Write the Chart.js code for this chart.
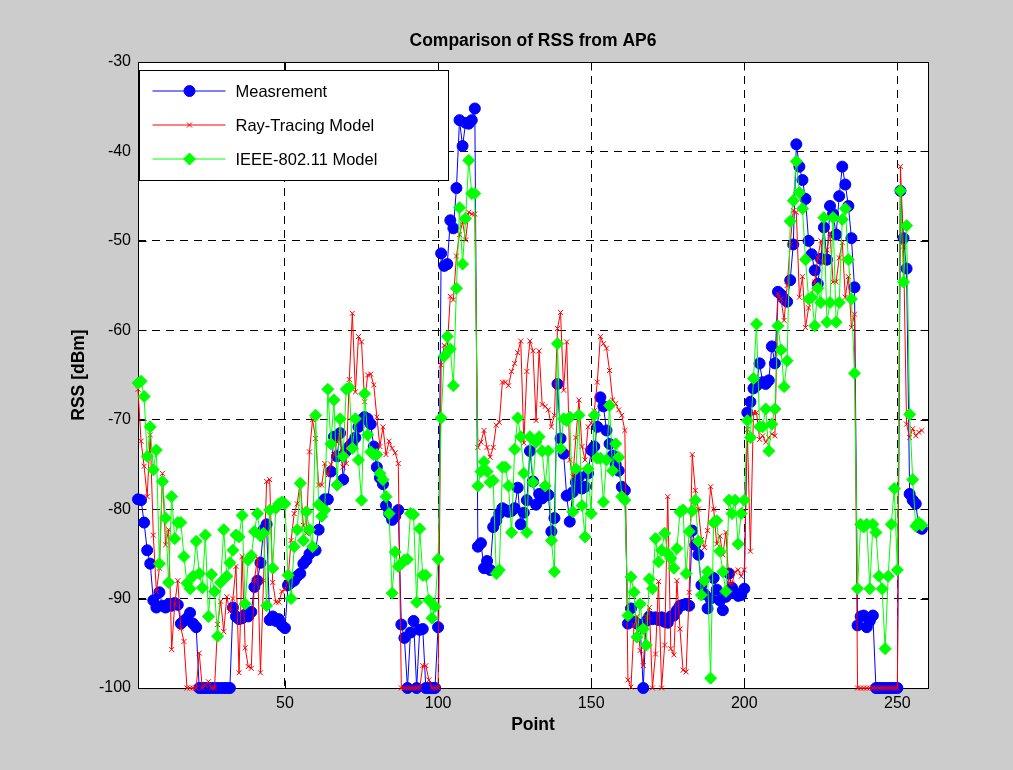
<!DOCTYPE html>
<html>
<head>
<meta charset="utf-8">
<script src="https://cdn.jsdelivr.net/npm/chart.js@4.4.1/dist/chart.umd.min.js"></script>
<style>
  html, body { margin: 0; padding: 0; background: #cccccc; }
  canvas { display: block; }
</style>
</head>
<body>
<canvas id="rss" width="1013" height="770" style="width:1013px;height:770px"></canvas>
<script>
// RSS per measurement point, AP6 (dBm), points 2..258
const firstPoint = 2

const measured = [
  -78.9, -79.0, -81.5, -84.6, -86.1, -90.2, -91.0, -89.3, -90.8, -91.0,
  -90.6, -90.8, -90.5, -90.7, -92.8, -92.5, -92.2, -91.6, -92.8, -93.2,
  -100, -100, -100, -100, -100, -100, -100, -100, -100, -100,
  -100, -91.0, -92.0, -92.3, -92.2, -91.8, -92.0, -91.5, -88.7, -88.0,
  -86.0, -82.3, -81.7, -92.4, -92.0, -92.5, -92.3, -93.0, -93.3, -88.5,
  -88.2, -88.0, -87.5, -87.2, -86.1, -85.7, -85.0, -84.6, -84.6, -82.3,
  -79.5, -78.9, -78.9, -75.8, -71.9, -74.1, -71.5, -76.7, -73.5, -73.0,
  -72.6, -72.0, -70.8, -70.0, -69.7, -69.9, -70.5, -73.0, -75.3, -76.5,
  -77.2, -79.6, -80.5, -81.2, -80.8, -80.1, -92.9, -94.4, -100, -93.8,
  -92.5, -100, -93.5, -93.4, -100, -100, -100, -100, -93.2, -51.4,
  -52.8, -52.6, -47.7, -48.6, -44.1, -36.5, -39.4, -36.8, -36.9, -36.5,
  -35.2, -84.2, -83.8, -86.6, -85.8, -86.8, -82.0, -81.3, -80.5, -79.9,
  -80.1, -80.3, -80.2, -79.9, -77.6, -81.7, -80.4, -79.0, -73.5, -76.9,
  -79.5, -78.3, -78.8, -78.5, -78.4, -82.5, -81.0, -66.0, -72.1, -73.8,
  -78.5, -81.4, -78.1, -77.0, -76.4, -77.7, -77.5, -76.0, -73.4, -73.0,
  -70.8, -67.5, -68.5, -71.2, -72.7, -74.0, -75.0, -75.7, -77.5, -77.9,
  -92.8, -91.1, -92.6, -92.8, -93.0, -100, -92.5, -92.0, -92.3, -92.1,
  -92.4, -92.1, -92.6, -92.7, -92.0, -91.9, -91.3, -90.8, -90.7, -90.6,
  -90.8, -82.4, -84.0, -85.1, -88.5, -89.5, -91.1, -90.0, -87.7, -89.0,
  -90.2, -91.3, -89.8, -87.2, -88.8, -89.4, -89.7, -89.6, -88.9, -69.2,
  -68.0, -66.5, -66.2, -63.7, -65.8, -66.0, -65.6, -61.8, -63.7, -55.7,
  -56.0, -56.5, -56.8, -54.4, -50.4, -39.2, -41.7, -43.2, -45.3, -50.0,
  -51.5, -53.3, -54.8, -52.0, -48.5, -52.1, -46.1, -47.0, -49.3, -45.0,
  -41.7, -43.7, -46.1, -49.7, -55.2, -93.0, -92.0, -91.9, -93.2, -92.5,
  -91.9, -100, -100, -100, -100, -100, -100, -100, -100, -44.4,
  -49.7, -53.1, -78.3, -79.0, -79.4, -82.0, -82.2
]

const rayTracing = [
  -66.6, -72.4, -75.2, -78.6, -71.7, -82.9, -89.2, -86.6, -76.0, -84.0,
  -82.3, -95.7, -90.6, -88.0, -93.3, -94.8, -100, -100, -100, -100,
  -96.1, -100, -99.7, -99.3, -100, -100, -92.9, -90.3, -93.7, -89.8,
  -91.4, -90.0, -86.4, -98.3, -85.3, -95.5, -97.6, -97.8, -88.0, -85.5,
  -98.3, -88.0, -76.9, -76.7, -88.2, -90.4, -90.4, -89.2, -89.0, -87.9,
  -83.5, -80.5, -79.4, -76.9, -81.8, -82.7, -73.6, -70.0, -72.1, -77.3,
  -77.3, -74.9, -76.2, -75.0, -73.9, -72.5, -71.4, -75.3, -74.9, -65.5,
  -58.1, -66.9, -60.7, -61.3, -68.0, -65.0, -64.9, -66.1, -69.7, -73.0,
  -70.8, -73.9, -72.4, -73.2, -73.7, -74.9, -100, -100, -100, -100,
  -100, -100, -100, -97.5, -97.5, -99.1, -100, -100, -100, -63.9,
  -61.7, -61.9, -56.2, -56.6, -51.7, -49.3, -47.9, -49.9, -46.8, -47.0,
  -47.0, -73.1, -72.5, -71.2, -73.1, -74.2, -73.1, -70.6, -70.3, -65.8,
  -65.8, -66.2, -64.6, -63.7, -62.5, -61.2, -72.6, -64.6, -61.2, -62.3,
  -70.1, -62.3, -68.3, -68.5, -68.9, -70.8, -69.5, -59.8, -58.0, -66.7,
  -61.3, -74.5, -76.4, -72.0, -67.8, -73.0, -74.5, -70.8, -70.4, -69.0,
  -65.8, -60.7, -61.5, -62.0, -64.5, -67.8, -68.2, -68.9, -69.5, -71.2,
  -99.1, -99.9, -93.0, -92.0, -95.8, -97.5, -92.0, -91.0, -100, -96.2,
  -88.1, -100, -95.2, -78.6, -95.6, -96.3, -88.0, -93.4, -98.0, -98.2,
  -89.3, -73.9, -77.9, -80.0, -83.4, -84.3, -82.4, -77.5, -80.0, -83.9,
  -83.0, -85.1, -82.6, -88.3, -88.3, -87.0, -86.8, -87.5, -86.8, -71.1,
  -84.7, -69.2, -69.2, -72.2, -71.8, -72.5, -72.0, -71.6, -71.8, -55.9,
  -56.5, -58.9, -55.0, -50.4, -46.6, -46.8, -56.3, -54.0, -59.7, -57.5,
  -56.3, -54.6, -51.9, -50.0, -52.5, -51.0, -49.1, -54.6, -54.6, -51.9,
  -50.2, -56.3, -54.0, -59.7, -58.2, -100, -100, -100, -100, -100,
  -100, -100, -100, -100, -100, -100, -100, -100, -100, -41.7,
  -50.6, -70.5, -72.0, -71.0, -71.8, -71.4, -71.2
]

const ieeeModel = [
  -65.9, -65.7, -67.4, -74.1, -70.8, -75.6, -73.4, -86.1, -76.9, -81.0,
  -88.2, -78.6, -83.3, -81.5, -81.5, -85.3, -88.3, -88.9, -87.5, -83.6,
  -87.2, -88.8, -82.9, -92.0, -87.3, -89.2, -94.2, -88.2, -82.3, -87.5,
  -86.0, -84.6, -82.9, -83.1, -80.7, -90.6, -85.7, -85.2, -82.5, -80.5,
  -83.0, -82.7, -90.8, -80.1, -86.6, -79.9, -79.4, -79.2, -79.4, -87.4,
  -90.0, -84.2, -82.3, -77.1, -83.5, -80.3, -82.3, -84.2, -69.5, -79.5,
  -80.8, -80.1, -66.6, -72.7, -67.8, -77.3, -69.9, -74.1, -66.6, -66.4,
  -73.2, -69.9, -74.5, -79.0, -67.1, -71.7, -73.6, -73.9, -73.9, -76.0,
  -76.7, -78.6, -80.5, -89.4, -84.8, -86.4, -86.1, -85.7, -85.6, -80.5,
  -80.6, -90.4, -82.2, -87.4, -87.4, -90.2, -92.2, -90.9, -85.6, -69.8,
  -62.9, -60.7, -62.1, -66.2, -55.3, -46.3, -52.6, -47.5, -41.0, -44.7,
  -44.7, -77.4, -75.8, -74.7, -75.8, -77.0, -76.8, -87.2, -86.8, -75.3,
  -75.3, -77.4, -82.6, -73.3, -69.8, -71.9, -76.0, -82.6, -71.9, -77.0,
  -72.5, -71.9, -73.5, -77.4, -73.5, -83.5, -87.0, -61.5, -73.2, -69.9,
  -70.1, -69.7, -80.3, -75.5, -69.5, -79.6, -83.1, -75.5, -80.5, -69.5,
  -74.3, -74.3, -79.2, -74.5, -68.4, -75.7, -72.7, -74.2, -78.6, -79.0,
  -91.9, -87.6, -89.3, -94.3, -90.6, -93.4, -95.2, -87.8, -88.9, -83.3,
  -85.9, -84.6, -82.7, -85.0, -85.5, -86.6, -84.4, -80.3, -80.1, -87.2,
  -82.5, -80.2, -79.0, -83.6, -89.6, -88.0, -87.0, -98.9, -81.5, -81.3,
  -84.7, -87.0, -89.2, -79.0, -80.5, -79.0, -83.9, -80.5, -79.0, -70.1,
  -72.0, -65.4, -59.3, -70.8, -70.8, -68.8, -73.5, -70.5, -68.8, -59.5,
  -62.2, -66.3, -63.4, -47.8, -45.5, -41.1, -44.6, -46.4, -52.1, -56.5,
  -56.3, -59.5, -55.3, -56.9, -47.4, -59.1, -56.9, -47.4, -59.1, -56.9,
  -47.6, -46.4, -52.1, -56.5, -64.8, -88.9, -81.7, -82.0, -81.7, -88.9,
  -81.7, -82.6, -87.5, -88.9, -95.6, -87.5, -81.7, -77.7, -86.8, -44.4,
  -54.6, -48.3, -69.4, -76.7, -81.9, -81.5, -81.8
]

const xTicks = [50, 100, 150, 200, 250]
const yTicks = [-100, -90, -80, -70, -60, -50, -40, -30]

const FONT = "'Liberation Sans', Arial, Helvetica, sans-serif"

const toPoints = values => values.map((v, k) => ({ x: firstPoint + k, y: v }))

// figure background, axes box with inward ticks, boxed legend
const figureFrame = {
    id: 'figureFrame',
    beforeDraw(chart) {
        const { ctx, chartArea: a } = chart
        ctx.save()
        ctx.fillStyle = '#cccccc'
        ctx.fillRect(0, 0, chart.width, chart.height)
        ctx.fillStyle = '#ffffff'
        ctx.fillRect(a.left, a.top, a.right - a.left, a.bottom - a.top)
        ctx.restore()
    },
    beforeDatasetsDraw(chart) {
        const { ctx, chartArea: a, scales } = chart
        const L = Math.round(a.left) + 0.5
        const R = Math.round(a.right) + 0.5
        const T = Math.round(a.top) + 0.5
        const B = Math.round(a.bottom) + 0.5
        const len = 8
        ctx.save()
        ctx.strokeStyle = '#000'
        ctx.lineWidth = 1
        ctx.setLineDash([])
        ctx.strokeRect(L, T, R - L, B - T)
        ctx.beginPath()
        for (const v of xTicks) {
            const px = Math.round(scales.x.getPixelForValue(v)) + 0.5
            ctx.moveTo(px, B); ctx.lineTo(px, B - len)
            ctx.moveTo(px, T); ctx.lineTo(px, T + len)
        }
        for (const v of yTicks) {
            const py = Math.round(scales.y.getPixelForValue(v)) + 0.5
            ctx.moveTo(L, py); ctx.lineTo(L + len, py)
            ctx.moveTo(R, py); ctx.lineTo(R - len, py)
        }
        ctx.stroke()
        ctx.restore()
    },
    afterDatasetsDraw(chart) {
        const { ctx, chartArea: a } = chart
        const x0 = Math.round(a.left) + 1.5
        const y0 = Math.round(a.top) + 8.5
        const w = 309, h = 110
        ctx.save()
        ctx.fillStyle = '#ffffff'
        ctx.fillRect(x0, y0, w, h)
        ctx.strokeStyle = '#000'
        ctx.lineWidth = 1
        ctx.strokeRect(x0, y0, w, h)
        ctx.font = '16.5px ' + FONT
        ctx.textBaseline = 'middle'
        chart.data.datasets.forEach((ds, k) => {
            const cy = y0 + 20.5 + k * 34
            ctx.strokeStyle = ds.borderColor
            ctx.lineWidth = 1
            ctx.beginPath()
            ctx.moveTo(x0 + 13, cy)
            ctx.lineTo(x0 + 86, cy)
            ctx.stroke()
            ctx.fillStyle = ds.backgroundColor
            Chart.helpers.drawPoint(ctx, {
                pointStyle: ds.pointStyle,
                radius: ds.pointRadius,
                rotation: 0,
                borderWidth: 1
            }, x0 + 50, cy)
            ctx.fillStyle = '#000'
            ctx.fillText(ds.label, x0 + 96, cy + 1)
        })
        ctx.restore()
    }
}

const lineStyle = {
    borderWidth: 1,
    tension: 0,
    clip: false,
    pointBorderWidth: 1,
    pointHoverRadius: 0
}

new Chart(document.getElementById('rss'), {
    type: 'line',
    data: {
        datasets: [
            {
                ...lineStyle,
                label: 'Measrement',
                data: toPoints(measured),
                borderColor: '#0000ff',
                backgroundColor: '#0000ff',
                pointStyle: 'circle',
                pointRadius: 5.5,
                order: 2
            },
            {
                ...lineStyle,
                label: 'Ray-Tracing Model',
                data: toPoints(rayTracing),
                borderColor: '#ff0000',
                backgroundColor: '#ff0000',
                pointStyle: 'crossRot',
                pointRadius: 3.5,
                order: 1
            },
            {
                ...lineStyle,
                label: 'IEEE-802.11 Model',
                data: toPoints(ieeeModel),
                borderColor: '#00ff00',
                backgroundColor: '#00ff00',
                pointStyle: 'rectRot',
                pointRadius: 6,
                order: 0
            }
        ]
    },
    options: {
        responsive: false,
        devicePixelRatio: 1,
        animation: false,
        events: [],
        layout: { padding: { top: 0, right: 85, bottom: 0, left: 0 } },
        scales: {
            x: {
                type: 'linear',
                min: 2,
                max: 260,
                afterBuildTicks: s => { s.ticks = xTicks.map(v => ({ value: v })) },
                afterFit: s => { s.height = 82 },
                ticks: { color: '#000', font: { family: FONT, size: 16 }, padding: 6, maxRotation: 0 },
                grid: { color: '#000', lineWidth: 1, drawTicks: false },
                border: { display: false, dash: [8, 6] },
                title: {
                    display: true,
                    text: 'Point',
                    color: '#000',
                    font: { family: FONT, size: 17.5, weight: 'bold' },
                    padding: { top: 0, bottom: 34 }
                }
            },
            y: {
                min: -100,
                max: -30,
                afterBuildTicks: s => { s.ticks = yTicks.map(v => ({ value: v })) },
                afterFit: s => { s.width = 138 },
                ticks: { color: '#000', font: { family: FONT, size: 16 }, padding: 7 },
                grid: { color: '#000', lineWidth: 1, drawTicks: false },
                border: { display: false, dash: [8, 6] },
                title: {
                    display: true,
                    text: 'RSS [dBm]',
                    color: '#000',
                    font: { family: FONT, size: 17.5, weight: 'bold' },
                    padding: { top: 69, bottom: 0 }
                }
            }
        },
        plugins: {
            legend: { display: false },
            tooltip: { enabled: false },
            title: {
                display: true,
                fullSize: false,
                text: 'Comparison of RSS from AP6',
                color: '#000',
                font: { family: FONT, size: 17.5, weight: 'bold' },
                padding: { top: 31, bottom: 10 }
            }
        }
    },
    plugins: [figureFrame]
})
</script>
</body>
</html>
